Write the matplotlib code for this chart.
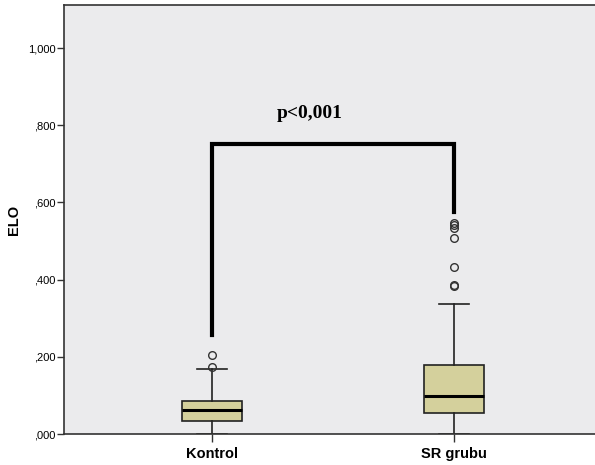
import matplotlib
matplotlib.use("Agg")
import matplotlib.pyplot as plt

categories = ["Kontrol", "SR grubu"]
# box statistics
q1 = [0.034, 0.054]
medians = [0.062, 0.098]
q3 = [0.086, 0.180]
whisk_lo = [0.0, 0.0]
whisk_hi = [0.168, 0.338]
outliers = [[0.174, 0.205], [0.383, 0.386, 0.433, 0.509, 0.534, 0.541, 0.546]]
yticks = [0.0, 0.2, 0.4, 0.6, 0.8, 1.0]
ytick_labels = [",000", ",200", ",400", ",600", ",800", "1,000"]
bracket_left_bottom = 0.256
bracket_right_bottom = 0.575
bracket_top = 0.751
p_text = "p<0,001"

fig = plt.figure(figsize=(5.95, 4.65), dpi=100)
ax = fig.add_axes([64/595, 1-434/465, (602-64)/595, (434-5)/465])
ax.set_facecolor("#EBEBED")

stats = []
for i, c in enumerate(categories):
    stats.append(dict(label=c, q1=q1[i], med=medians[i], q3=q3[i],
                      whislo=whisk_lo[i], whishi=whisk_hi[i], fliers=outliers[i]))

ax.bxp(stats, positions=[1, 2], widths=0.25, patch_artist=True,
       boxprops=dict(facecolor="#D4D09C", edgecolor="#222222", linewidth=1.2),
       medianprops=dict(color="black", linewidth=2.2),
       whiskerprops=dict(color="#222222", linewidth=1.2),
       capprops=dict(color="#222222", linewidth=1.2),
       capwidths=0.125,
       flierprops=dict(marker="o", markerfacecolor="none", markeredgecolor="#333333",
                       markersize=5.5, markeredgewidth=1.0))

ax.plot([1, 1, 2, 2], [bracket_left_bottom, bracket_top, bracket_top, bracket_right_bottom],
        color="black", linewidth=3, solid_joinstyle="miter", zorder=5)
ax.text(1.405, 0.83, p_text, ha="center", va="center", fontsize=14,
        fontweight="bold", family="Liberation Serif")

ax.set_xlim(1 - 148/242, 2 + 148/242)
ax.set_ylim(0, (434-5)/386)
ax.set_yticks(yticks)
ax.set_yticklabels(ytick_labels, fontsize=8, family="Liberation Sans")
ax.set_xticks([1, 2])
ax.set_xticklabels(categories, fontsize=10.5, fontweight="bold", family="Liberation Sans")
ax.set_ylabel("ELO", fontsize=10.5, fontweight="bold", family="Liberation Sans", labelpad=5)
ax.tick_params(axis="y", length=5, width=1, colors="#333333", pad=1)
ax.tick_params(axis="x", length=6, width=1, colors="#333333", pad=3)
for lab in ax.get_xticklabels() + ax.get_yticklabels():
    lab.set_color("black")
for s in ["left", "bottom", "top"]:
    ax.spines[s].set_color("#333333")
    ax.spines[s].set_linewidth(1.2)
ax.spines["right"].set_visible(False)

fig.savefig("out.png", dpi=100)
